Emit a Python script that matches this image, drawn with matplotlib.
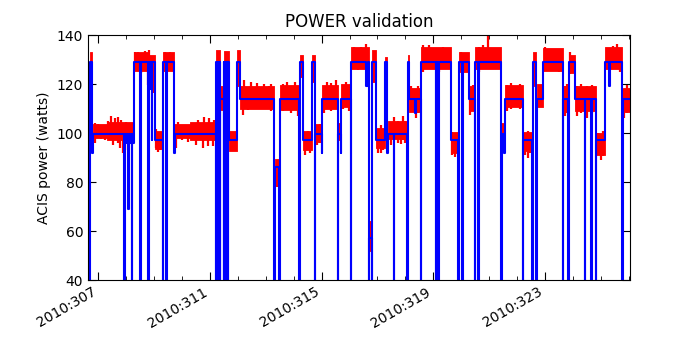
import matplotlib
matplotlib.use("Agg")
import matplotlib.pyplot as plt
from matplotlib.ticker import FixedLocator, MultipleLocator, FuncFormatter

# ---------------- data (day-of-year 2010) ----------------
# Model (blue step) : breakpoints and the power level that starts there
model_day = [
    306.63, 306.69, 306.79, 306.81, 307.93, 307.95, 308.01, 308.03, 308.07, 308.09,
    308.14, 308.16, 308.19, 308.21, 308.25, 308.27, 308.51, 308.54, 308.79, 308.81,
    308.86, 308.88, 308.92, 308.94, 309.03, 309.30, 309.32, 309.43, 309.45, 309.71,
    309.73, 311.22, 311.23, 311.245, 311.26, 311.275, 311.29, 311.305, 311.32, 311.335,
    311.35, 311.365, 311.37, 311.49, 311.505, 311.52, 311.535, 311.55, 311.565, 311.58,
    311.595, 311.61, 311.625, 311.64, 311.655, 311.67, 311.98, 312.09, 313.31, 313.33,
    313.47, 313.50, 314.20, 314.22, 314.32, 314.65, 314.76, 314.78, 315.01, 315.03,
    315.57, 315.59, 315.69, 315.71, 316.05, 316.07, 316.60, 316.65, 316.69, 316.71,
    316.79, 316.81, 316.96, 317.26, 317.36, 317.38, 317.58, 317.60, 318.07, 318.09,
    318.13, 318.36, 318.38, 318.55, 318.57, 319.09, 319.11, 319.18, 319.20, 319.62,
    319.89, 319.91, 320.04, 320.06, 320.28, 320.49, 320.51, 320.61, 320.63, 321.43,
    321.45, 321.55, 321.57, 322.20, 322.22, 322.54, 322.56, 322.68, 322.70, 322.93,
    323.64, 323.66, 323.83, 323.85, 324.08, 324.42, 324.44, 324.66, 324.68, 324.82,
    324.84, 325.16, 325.30, 325.32, 325.77, 325.79, 326.05,
]
model_watts = [
    0, 129, 92, 99.5, 0, 99.5, 96, 99.5, 69, 99.5,
    96, 99.5, 0, 99.5, 96, 129, 0, 129, 0, 129,
    118, 129, 97, 129, 97, 0, 129, 0, 129, 92,
    99.5, 0, 129, 0, 129, 0, 129, 0, 129, 0,
    129, 0, 114, 0, 129, 0, 129, 0, 129, 0,
    129, 0, 129, 0, 129, 97, 129, 114, 0, 86,
    0, 114, 0, 129, 97, 129, 0, 99.5, 92, 114,
    0, 99.5, 92, 114, 0, 129, 119, 129, 0, 57,
    0, 129, 97, 129, 92, 99.5, 0, 99.5, 0, 129,
    114, 108, 114, 0, 129, 0, 129, 0, 129, 97,
    0, 129, 0, 129, 114, 0, 129, 0, 129, 0,
    99.5, 92, 114, 0, 97, 0, 129, 0, 114, 129,
    0, 114, 0, 129, 114, 0, 114, 0, 114, 0,
    97, 129, 119, 129, 0, 114, 114,
]

# Telemetry (red) : spans with the dense core of the noisy signal
red_start = [306.69, 306.81, 307.30, 308.27, 308.81, 309.03, 309.30, 309.71, 310.30, 311.23,
             311.37, 311.49, 311.67, 311.98, 312.09, 313.33, 313.50, 314.22, 314.32, 314.65,
             314.78, 315.03, 315.59, 315.71, 316.07, 316.71, 316.81, 316.96, 317.26, 317.38,
             318.09, 318.13, 318.57, 319.62, 319.91, 320.28, 320.51, 321.43, 321.57, 322.22,
             322.56, 322.70, 322.93, 323.64, 323.85, 324.08, 324.84, 325.16, 325.79]
red_end = [306.79, 307.30, 308.27, 308.81, 309.03, 309.30, 309.71, 310.30, 311.23, 311.37,
           311.49, 311.67, 311.98, 312.09, 313.31, 313.47, 314.20, 314.32, 314.65, 314.76,
           315.01, 315.57, 315.69, 316.05, 316.69, 316.79, 316.96, 317.26, 317.36, 318.07,
           318.13, 318.55, 319.62, 319.89, 320.28, 320.49, 321.43, 321.57, 322.20, 322.54,
           322.68, 322.93, 323.64, 323.85, 324.08, 324.82, 325.16, 325.77, 326.05]
red_lo = [126, 98, 97, 125.5, 123, 93.5, 125.5, 98, 97, 127,
          109.5, 126, 92.5, 119, 110, 80, 109.5, 123, 93, 121,
          96.5, 110, 97, 110.5, 126, 52, 121, 94, 120, 97.5,
          116, 108.5, 126, 92, 125, 109, 126, 97, 110.5, 92.5,
          119, 110.5, 125.5, 109, 124.5, 109, 91, 126, 108.5]
red_hi = [133, 103.5, 104.5, 133, 132, 101, 133, 103.5, 104.5, 134,
          119, 133.5, 101, 134, 119, 89.5, 119.5, 132, 101, 132,
          103.5, 119.5, 104, 120, 135, 64, 134, 102, 131, 105,
          132, 118.5, 135, 100.5, 133, 119, 135, 104, 119.5, 100.5,
          133, 120, 134.5, 119, 132, 119, 100, 135, 118.5]

# Telemetry (red) : individual noise excursions (day, low, high)
spike_day = [306.87, 306.99, 307.10, 307.23, 307.35, 307.47, 307.53, 307.58, 307.70, 307.76,
             307.82, 307.88, 308.00, 308.06, 308.12, 308.30, 308.36, 308.42, 308.54, 308.66,
             308.77, 308.83, 308.95, 309.08, 309.15, 309.22, 309.39, 309.47, 309.58, 309.67,
             309.79, 309.85, 310.00, 310.20, 310.35, 310.50, 310.56, 310.74, 310.80, 310.92,
             310.98, 311.10, 311.16, 312.17, 312.23, 312.35, 312.47, 312.58, 312.70, 312.82,
             312.94, 313.10, 313.20, 313.40, 313.60, 313.75, 313.90, 314.05, 314.15, 314.40,
             314.50, 314.60, 314.85, 314.95, 315.10, 315.20, 315.35, 315.50, 315.78, 315.87,
             315.98, 316.15, 316.29, 316.40, 316.50, 316.58, 317.02, 317.12, 317.20, 317.47,
             317.60, 317.75, 317.85, 317.90, 318.00, 318.20, 318.37, 318.45, 318.65, 318.85,
             319.00, 319.20, 319.35, 319.50, 319.68, 319.78, 319.85, 320.00, 320.15, 320.33,
             320.42, 320.65, 320.80, 320.95, 321.10, 321.30, 321.65, 321.80, 321.95, 322.10,
             322.28, 322.38, 322.48, 323.00, 323.15, 323.30, 323.50, 323.72, 323.80, 323.90,
             324.00, 324.15, 324.30, 324.50, 324.70, 324.90, 325.00, 325.10, 325.25, 325.45,
             325.60, 325.70, 325.85, 325.95]
spike_lo = [95.8, 98, 97.5, 97, 98, 97, 95, 98, 96, 93.7,
            97, 91.7, 96, 93, 96, 126, 125.3, 127, 124.4, 126,
            119.6, 126, 116.2, 94, 92.4, 93, 127, 126.4, 127, 126.4,
            93.7, 98, 97, 96.5, 97, 95, 98, 93.7, 98, 94.5,
            98, 94.5, 98, 107.3, 111, 109.4, 111, 110, 111, 110.5,
            111, 110, 109, 78, 109, 110, 108, 110, 107, 91,
            93, 92, 95, 96, 108, 110, 109, 110, 110, 111,
            109, 126, 125.7, 126.5, 126, 127, 92, 91.7, 93, 95,
            97, 96, 95.5, 97, 96, 109, 106, 108, 125, 126,
            126.5, 125, 126, 126, 91, 90.3, 92, 125, 125.5, 107.3,
            109, 125, 126, 127, 126, 126, 109, 110, 110.5, 110,
            91, 90, 92, 126, 126.5, 126, 125, 107, 108, 124,
            125, 107, 108, 106, 108, 91, 89, 90.5, 126, 126,
            126.5, 125, 106, 108]
spike_hi = [104, 103.5, 103, 102, 105, 107, 103, 106, 106.7, 102,
            105.3, 102, 104.4, 102, 104, 133, 131, 133, 132, 133.5,
            131, 134, 130, 101.5, 99, 100, 133, 132, 133, 131,
            101, 104.4, 103, 102.6, 104, 103, 105.3, 103, 106.7, 104,
            106, 104, 105.3, 116, 121.6, 117, 121, 117, 120.5, 117,
            120, 119, 120, 88, 120, 121, 119, 121, 118, 99,
            101, 100, 102, 103.5, 119, 121, 120.5, 121.5, 118, 121,
            119, 135.2, 133, 135, 134.5, 136.2, 100, 103.3, 101, 104,
            106.7, 105, 104, 107, 105, 119, 118, 119, 135.9, 135.9,
            134.5, 134, 135, 134, 100.5, 99, 100, 133, 132.5, 118,
            119.6, 135, 136, 140, 134.5, 134, 119.6, 120.5, 119, 120,
            100, 101, 100, 135, 133.5, 133, 133.5, 119, 120, 133,
            131.5, 119, 120, 119, 119.5, 100, 99, 101, 134, 135.5,
            136.2, 134, 118, 119.5]

major_days = [307, 311, 315, 319, 323]
y_ticks = [40, 60, 80, 100, 120, 140]

# ---------------- figure ----------------
fig = plt.figure(figsize=(7, 3.5), dpi=100)
ax = fig.add_axes([88 / 700, 70 / 350, 542 / 700, 245 / 350])

for s, e, lo, hi in zip(red_start, red_end, red_lo, red_hi):
    ax.fill_between([s, e], [lo, lo], [hi, hi], color="red", linewidth=0.6,
                    edgecolor="red")
ax.vlines(spike_day, spike_lo, spike_hi, color="red", linewidth=1.6)

ax.step(model_day, model_watts, where="post", color="blue", linewidth=1.5)

ax.set_xlim(306.63, 326.05)
ax.set_ylim(40, 140)
ax.xaxis.set_major_locator(FixedLocator(major_days))
ax.xaxis.set_minor_locator(MultipleLocator(1))
ax.xaxis.set_major_formatter(FuncFormatter(lambda v, p: "2010:%03d" % int(round(v))))
ax.set_yticks(y_ticks)

ax.tick_params(which="both", direction="in", top=True, right=True, labelsize=10)
ax.tick_params(which="major", length=6)
ax.tick_params(which="minor", length=3)
for lab in ax.get_xticklabels():
    lab.set_rotation(30)
    lab.set_ha("right")

ax.set_title("POWER validation", fontsize=12)
ax.set_ylabel("ACIS power (watts)", fontsize=10)

fig.savefig("out.png", dpi=100)
